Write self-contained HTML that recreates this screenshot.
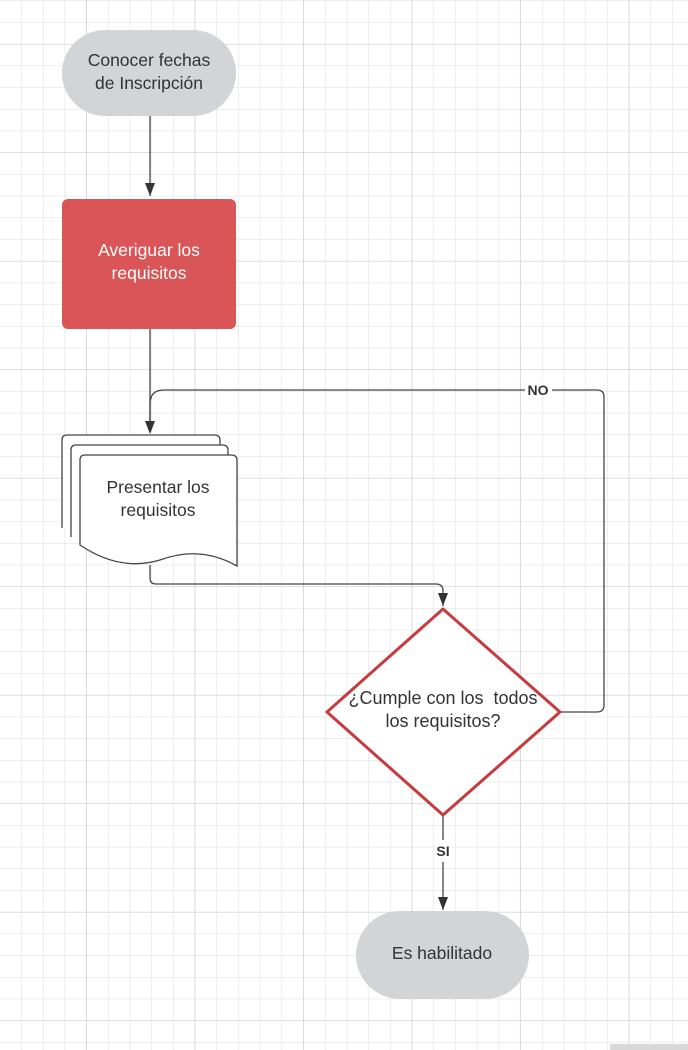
<!DOCTYPE html>
<html><head><style>
html,body{margin:0;padding:0;background:#fff}
svg{display:block}
text{font-family:"Liberation Sans",sans-serif;fill:#333}
</style></head><body>
<svg width="688" height="1050" viewBox="0 0 688 1050" xmlns="http://www.w3.org/2000/svg">
<defs>
<pattern id="g" x="0" y="1" width="21.7" height="21.7" patternUnits="userSpaceOnUse">
<path d="M21.7 0V21.7M0 21.7H21.7" stroke="#dcdcdc" stroke-width="1" fill="none"/>
</pattern>
<pattern id="G" x="-21.7" y="-64" width="108.5" height="108.5" patternUnits="userSpaceOnUse">
<path d="M108.5 0V108.5M0 108.5H108.5" stroke="#cfcfcf" stroke-width="1.3" fill="none"/>
</pattern>
</defs>
<rect width="688" height="1050" fill="url(#g)"/>
<rect width="688" height="1050" fill="url(#G)"/>

<g stroke="#444" stroke-width="1.3" fill="none">
<path d="M150 116V196"/>
<path d="M150 328V432"/>
<path d="M150 432V404Q150 390 164 390H597Q604 390 604 397V705Q604 712 597 712H560"/>
<path d="M150 565V578Q150 584 156 584H436Q443 584 443 591V606"/>
<path d="M443 815V840M443 862V910"/>
</g>
<path d="M145 183H155L150 196z" fill="#333"/>
<path d="M145 421H155L150 434z" fill="#333"/>
<path d="M438 593H448L443 606z" fill="#333"/>
<path d="M438 897H448L443 910z" fill="#333"/>

<rect x="62" y="30" width="174" height="86" rx="43" fill="#d3d4d6"/>
<text x="149" y="66" font-size="17.5" text-anchor="middle">Conocer fechas</text>
<text x="149" y="89" font-size="17.5" text-anchor="middle">de Inscripción</text>

<rect x="62" y="199" width="174" height="130" rx="6" fill="#d95557"/>
<text x="149" y="256" font-size="17.5" text-anchor="middle" style="fill:#fff">Averiguar los</text>
<text x="149" y="279" font-size="17.5" text-anchor="middle" style="fill:#fff">requisitos</text>

<g stroke="#444" stroke-width="1.3" fill="#fff">
<path d="M62 528V440Q62 435 67 435H214Q220 435 220 440V520"/>
<path d="M71 537V450Q71 445 76 445H222Q228 445 228 450V530"/>
<path d="M80 545V460Q80 455 85 455H231Q237 455 237 460V566Q200 545 160 560Q120 572 80 545z"/>
</g>
<text x="158" y="493" font-size="17.5" text-anchor="middle">Presentar los</text>
<text x="158" y="516" font-size="17.5" text-anchor="middle">requisitos</text>

<path d="M443 609L560 712 443 815 327 712z" fill="#fff" stroke="#c73a3d" stroke-width="3" stroke-linejoin="round"/>
<text x="443" y="704" font-size="18" text-anchor="middle" xml:space="preserve">¿Cumple con los  todos</text>
<text x="443" y="727" font-size="18" text-anchor="middle">los requisitos?</text>

<rect x="525" y="381" width="27" height="16" fill="#fff"/>
<text x="538" y="395" font-size="14" font-weight="bold" text-anchor="middle">NO</text>
<text x="443" y="856" font-size="14" font-weight="bold" text-anchor="middle">SI</text>

<rect x="356" y="911" width="173" height="88" rx="44" fill="#d3d4d6"/>
<text x="442" y="959" font-size="17.5" text-anchor="middle">Es habilitado</text>
<rect x="610" y="1044" width="78" height="6" fill="#d8d8d8"/>
</svg>
</body></html>
